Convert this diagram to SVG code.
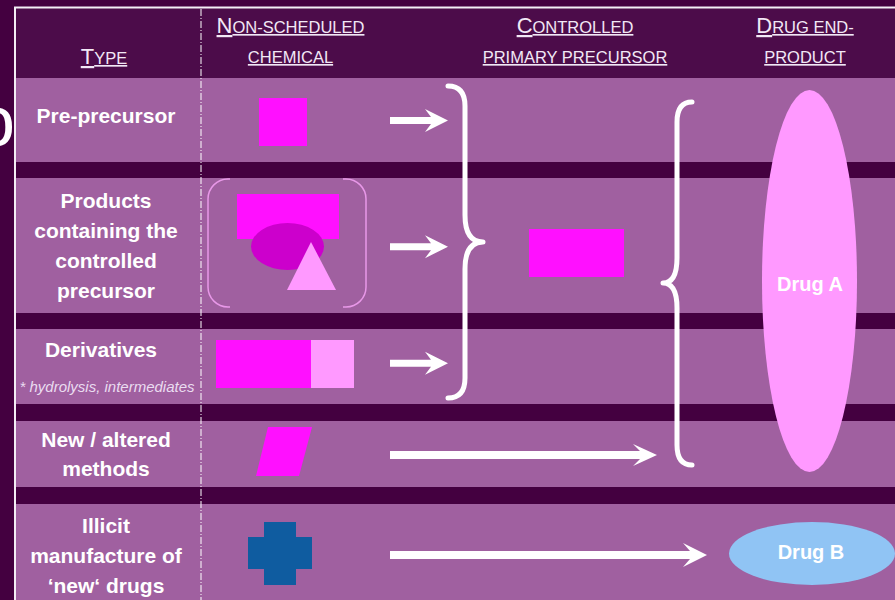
<svg xmlns="http://www.w3.org/2000/svg" width="895" height="600" viewBox="0 0 895 600">
<style>
.lbl{font-family:"Liberation Sans",Arial,sans-serif;font-weight:bold;font-size:21px;fill:#ffffff;text-anchor:middle}
.hd{font-family:"Liberation Sans",Arial,sans-serif;font-size:16.5px;fill:#f2e8f6;text-anchor:middle;text-decoration:underline}
.big{font-size:22px}
.row{fill:#a060a0}
.arrow{fill:#ffffff}
.brace{fill:none;stroke:#ffffff;stroke-width:5;stroke-linecap:round;stroke-linejoin:round}
.mag{fill:#ff10ff}
.pink{fill:#ff99ff}
.drug{font-family:"Liberation Sans",Arial,sans-serif;font-weight:bold;font-size:20px;fill:#ffffff;text-anchor:middle}
</style>
<rect x="0" y="0" width="895" height="600" fill="#440040"/>
<text x="-25" y="146" font-family="Liberation Sans, Arial, sans-serif" font-size="72" fill="#ffffff">o</text>
<g id="frame">
<rect x="16" y="8" width="879" height="70" fill="#4c0c4a"/>
<rect class="row" x="16" y="78" width="879" height="84"/>
<rect class="row" x="16" y="178" width="879" height="135"/>
<rect class="row" x="16" y="329" width="879" height="75"/>
<rect class="row" x="16" y="421" width="879" height="66"/>
<rect class="row" x="16" y="504" width="879" height="96"/>
<path d="M15,600 V7.5 H895" fill="none" stroke="#f4eef6" stroke-width="2"/>
<line x1="201" y1="9" x2="201" y2="600" stroke="#ffffff" stroke-width="1" stroke-dasharray="7 2 1 2"/>
</g>
<g id="header">
<text class="hd" x="104" y="64"><tspan class="big">T</tspan>YPE</text>
<text class="hd" x="290.5" y="33"><tspan class="big">N</tspan>ON-SCHEDULED</text>
<text class="hd" x="290.5" y="63">CHEMICAL</text>
<text class="hd" x="575" y="33"><tspan class="big">C</tspan>ONTROLLED</text>
<text class="hd" x="575" y="63">PRIMARY PRECURSOR</text>
<text class="hd" x="805" y="33"><tspan class="big">D</tspan>RUG END-</text>
<text class="hd" x="805" y="63">PRODUCT</text>
</g>
<g id="pre-precursor">
<text class="lbl" x="106" y="123">Pre-precursor</text>
<rect class="mag" x="259" y="98" width="48" height="48"/>
</g>
<g id="products">
<text class="lbl" x="106" y="208">Products</text>
<text class="lbl" x="106" y="238">containing the</text>
<text class="lbl" x="106" y="268">controlled</text>
<text class="lbl" x="106" y="298">precursor</text>
<path d="M230,179 H228 A20,20 0 0 0 208,199 V287 A20,20 0 0 0 228,307 H230" fill="none" stroke="#e898e8" stroke-width="1.5"/>
<path d="M343,179 H346 A20,20 0 0 1 366,199 V287 A20,20 0 0 1 346,307 H343" fill="none" stroke="#e898e8" stroke-width="1.5"/>
<rect class="mag" x="237" y="194" width="102" height="45"/>
<ellipse cx="287.5" cy="246.5" rx="36.5" ry="23.5" fill="#cc00cc"/>
<polygon class="pink" points="311,242 287,290 336,290"/>
</g>
<g id="derivatives">
<text class="lbl" x="101" y="357">Derivatives</text>
<text x="107" y="392" font-family="Liberation Sans, Arial, sans-serif" font-style="italic" font-size="15" fill="#eadcf0" text-anchor="middle">* hydrolysis,  intermediates</text>
<rect class="mag" x="216" y="340" width="95" height="48"/>
<rect class="pink" x="311" y="340" width="43" height="48"/>
</g>
<g id="new-methods">
<text class="lbl" x="106" y="447">New / altered</text>
<text class="lbl" x="106" y="476">methods</text>
<polygon class="mag" points="268,427 312,427 299,476 256,476"/>
</g>
<g id="illicit">
<text class="lbl" x="106" y="533">Illicit</text>
<text class="lbl" x="106" y="563">manufacture of</text>
<text class="lbl" x="106" y="593">‘new‘ drugs</text>
<path d="M264,522 H296 V537 H312 V569 H296 V585 H264 V569 H248 V537 H264 Z" fill="#0f5ca0"/>
</g>
<g id="precursor">
<rect class="mag" x="529" y="229" width="95" height="48"/>
</g>
<g id="drug-a">
<ellipse class="pink" cx="809.5" cy="281" rx="47.5" ry="191"/>
<text class="drug" x="810" y="291">Drug A</text>
</g>
<g id="drug-b">
<ellipse cx="812" cy="553.5" rx="83" ry="31.5" fill="#90c4f4"/>
<text class="drug" x="811" y="559">Drug B</text>
</g>
<g id="connectors">
<path class="arrow" d="M390,117 H431 L425,109 L448,120.5 L425,132 L431,124 H390 Z"/>
<path class="arrow" d="M390,243.2 H431 L425,235.2 L448,246.7 L425,258.2 L431,250.2 H390 Z"/>
<path class="arrow" d="M390,359.8 H431 L425,351.8 L448,363.3 L425,374.8 L431,366.8 H390 Z"/>
<path class="arrow" d="M390,451 H640 L633,444 L657,455 L633,466 L640,459 H390 Z"/>
<path class="arrow" d="M390,551 H690 L683,543 L707,555 L683,567 L690,559 H390 Z"/>
<path class="brace" d="M448,86 Q465,86 465,106 V215 Q465,242 483,242 Q465,242 465,269 V378 Q465,398 448,398"/>
<path class="brace" d="M692,102 Q677,102 677,122 V258 Q677,283 663,283 Q677,283 677,308 V445 Q677,465 692,465"/>
</g>
</svg>
